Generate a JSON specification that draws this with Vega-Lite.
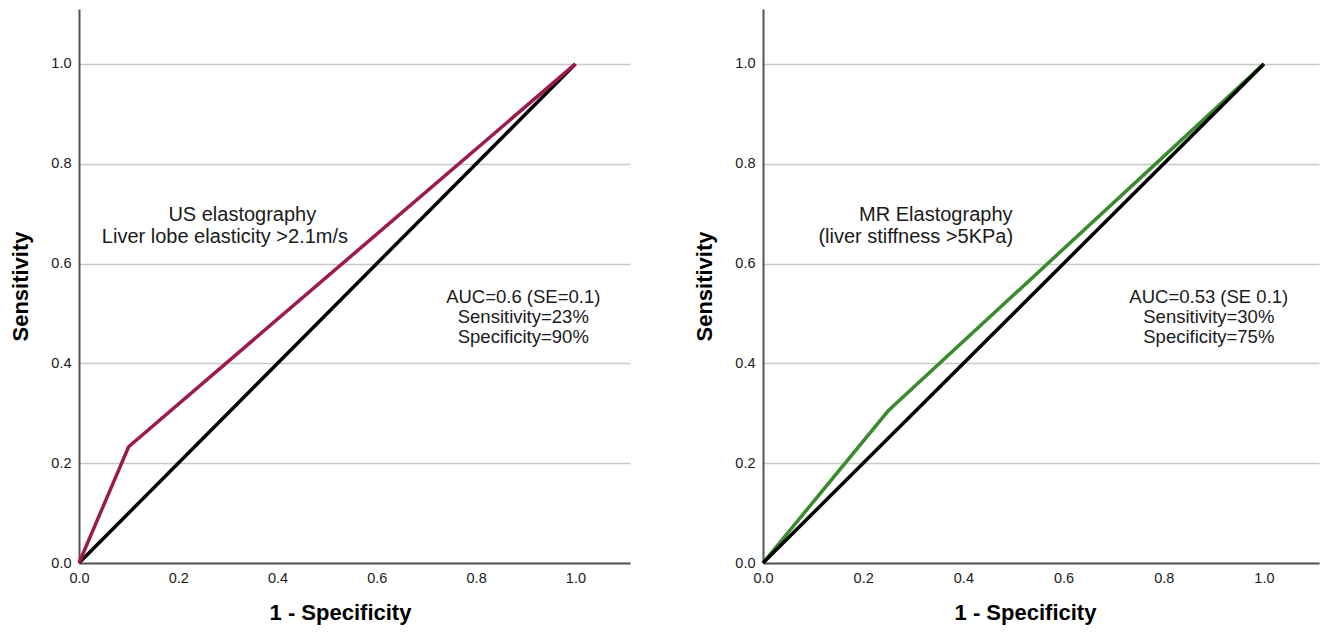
{
  "$schema": "https://vega.github.io/schema/vega-lite/v6.json",
  "padding": {"left": 9, "top": 9, "right": 5, "bottom": 5},
  "background": "white",
  "bounds": "flush",
  "spacing": 133,
  "config": {
    "font": "Liberation Sans",
    "view": {"stroke": null},
    "axis": {
      "domainColor": "#555555",
      "domainWidth": 2,
      "ticks": false,
      "labelFlush": false,
      "labelFont": "Liberation Sans",
      "labelFontSize": 14.5,
      "labelColor": "#1a1a1a",
      "labelPadding": 8,
      "titleFont": "Liberation Sans",
      "titleFontSize": 22,
      "titleFontWeight": "bold",
      "titleColor": "#000000",
      "gridColor": "#c8c8c8",
      "gridWidth": 1.5
    }
  },
  "datasets": {
    "roc_us": [
      {"fpr": 0.0, "tpr": 0.0, "series": "US"},
      {"fpr": 0.1, "tpr": 0.233, "series": "US"},
      {"fpr": 1.0, "tpr": 1.0, "series": "US"}
    ],
    "roc_mr": [
      {"fpr": 0.0, "tpr": 0.0, "series": "MR"},
      {"fpr": 0.25, "tpr": 0.305, "series": "MR"},
      {"fpr": 1.0, "tpr": 1.0, "series": "MR"}
    ],
    "diag": [
      {"fpr": 0.0, "tpr": 0.0},
      {"fpr": 1.0, "tpr": 1.0}
    ],
    "heads_us": [
      {"x": 0.329, "y": 0.697, "label": "US elastography"},
      {"x": 0.294, "y": 0.653, "label": "Liver lobe elasticity >2.1m/s"}
    ],
    "notes_us": [
      {"x": 0.895, "y": 0.532, "label": "AUC=0.6 (SE=0.1)"},
      {"x": 0.895, "y": 0.492, "label": "Sensitivity=23%"},
      {"x": 0.895, "y": 0.452, "label": "Specificity=90%"}
    ],
    "heads_mr": [
      {"x": 0.345, "y": 0.697, "label": "MR Elastography"},
      {"x": 0.305, "y": 0.653, "label": "(liver stiffness >5KPa)"}
    ],
    "notes_mr": [
      {"x": 0.890, "y": 0.532, "label": "AUC=0.53 (SE 0.1)"},
      {"x": 0.890, "y": 0.492, "label": "Sensitivity=30%"},
      {"x": 0.890, "y": 0.452, "label": "Specificity=75%"}
    ]
  },
  "hconcat": [
    {
      "width": 551,
      "height": 554,
      "encoding": {
        "x": {"field": "fpr", "type": "quantitative", "scale": {"domain": [0, 1.11], "nice": false, "zero": true},
          "axis": {"values": [0, 0.2, 0.4, 0.6, 0.8, 1.0], "format": ".1f", "grid": false, "title": "1 - Specificity", "titlePadding": 18, "titleX": 261}},
        "y": {"field": "tpr", "type": "quantitative", "scale": {"domain": [0, 1.11], "nice": false},
          "axis": {"values": [0, 0.2, 0.4, 0.6, 0.8, 1.0], "format": ".1f", "grid": true, "title": "Sensitivity", "titlePadding": 18}}
      },
      "layer": [
        {"data": {"name": "diag"}, "mark": {"type": "line", "color": "#000000", "strokeWidth": 3.5}, "encoding": {"order": {"field": "fpr"}}},
        {"data": {"name": "roc_us"}, "mark": {"type": "line", "color": "#9b1b50", "strokeWidth": 3.5}, "encoding": {"order": {"field": "fpr"}}},
        {"data": {"name": "heads_us"}, "mark": {"type": "text", "fontSize": 20, "align": "center", "baseline": "middle", "color": "#1a1a1a"},
          "encoding": {"x": {"field": "x", "type": "quantitative"}, "y": {"field": "y", "type": "quantitative"}, "text": {"field": "label"}}},
        {"data": {"name": "notes_us"}, "mark": {"type": "text", "fontSize": 18.5, "align": "center", "baseline": "middle", "color": "#1a1a1a"},
          "encoding": {"x": {"field": "x", "type": "quantitative"}, "y": {"field": "y", "type": "quantitative"}, "text": {"field": "label"}}}
      ]
    },
    {
      "width": 556,
      "height": 554,
      "encoding": {
        "x": {"field": "fpr", "type": "quantitative", "scale": {"domain": [0, 1.11], "nice": false, "zero": true},
          "axis": {"values": [0, 0.2, 0.4, 0.6, 0.8, 1.0], "format": ".1f", "grid": false, "title": "1 - Specificity", "titlePadding": 18, "titleX": 262}},
        "y": {"field": "tpr", "type": "quantitative", "scale": {"domain": [0, 1.11], "nice": false},
          "axis": {"values": [0, 0.2, 0.4, 0.6, 0.8, 1.0], "format": ".1f", "grid": true, "title": "Sensitivity", "titlePadding": 18}}
      },
      "layer": [
        {"data": {"name": "roc_mr"}, "mark": {"type": "line", "color": "#3a8a2e", "strokeWidth": 3.5}, "encoding": {"order": {"field": "fpr"}}},
        {"data": {"name": "diag"}, "mark": {"type": "line", "color": "#000000", "strokeWidth": 3.5}, "encoding": {"order": {"field": "fpr"}}},
        {"data": {"name": "heads_mr"}, "mark": {"type": "text", "fontSize": 20, "align": "center", "baseline": "middle", "color": "#1a1a1a"},
          "encoding": {"x": {"field": "x", "type": "quantitative"}, "y": {"field": "y", "type": "quantitative"}, "text": {"field": "label"}}},
        {"data": {"name": "notes_mr"}, "mark": {"type": "text", "fontSize": 18.5, "align": "center", "baseline": "middle", "color": "#1a1a1a"},
          "encoding": {"x": {"field": "x", "type": "quantitative"}, "y": {"field": "y", "type": "quantitative"}, "text": {"field": "label"}}}
      ]
    }
  ]
}
